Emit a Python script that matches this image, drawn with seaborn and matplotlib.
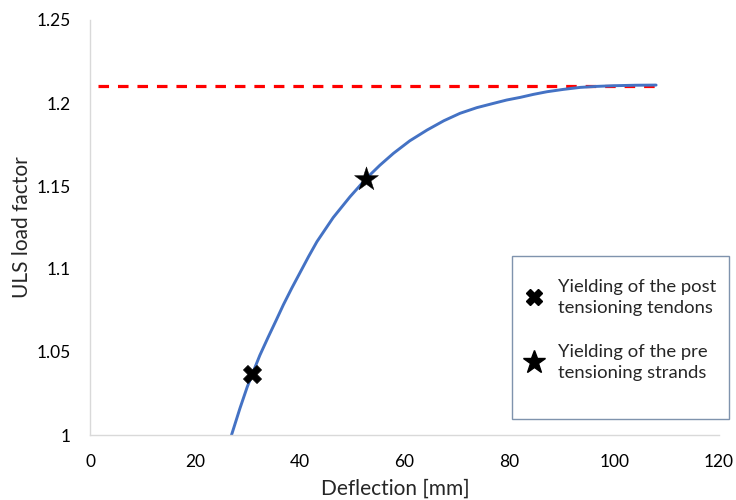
import matplotlib
matplotlib.use("Agg")
import matplotlib.pyplot as plt
import matplotlib.ticker as mticker
from matplotlib.patches import Rectangle
from matplotlib.lines import Line2D
import seaborn as sns
import pandas as pd

# Data
deflection = [27.0, 28.6, 30.0, 31.0, 32.4, 34.0, 35.5, 36.9, 38.5, 40.1,
              41.7, 43.3, 46.4, 49.6, 52.7, 55.3, 57.9, 61.0, 64.3, 67.5,
              70.6, 73.8, 77.0, 79.5, 82.1, 84.6, 87.2, 90.3, 93.5, 96.6,
              99.8, 104.0, 108.0]
load_factor = [1.000, 1.016, 1.029, 1.037, 1.048, 1.059, 1.069, 1.0785, 1.0885, 1.098,
               1.1075, 1.1165, 1.131, 1.1435, 1.1545, 1.1625, 1.1697, 1.1772, 1.1837, 1.1893,
               1.1938, 1.1972, 1.1998, 1.2018, 1.2034, 1.2052, 1.2068, 1.2082, 1.2094, 1.2100,
               1.2104, 1.2107, 1.2108]
limit_x = [1.5, 108.0]
limit_y = [1.21, 1.21]
post_x, post_y = [31.0], [1.037]
pre_x, pre_y = [52.7], [1.1545]
legend_labels = ["Yielding of the post\ntensioning tendons",
                 "Yielding of the pre\ntensioning strands"]

sns.set_style("white")
plt.rcParams['font.family'] = ['Lato', 'DejaVu Sans']

fig = plt.figure(figsize=(7.36, 5.0), dpi=100)
ax = fig.add_axes([90/736, 65/500, 629/736, 415/500])

curve = pd.DataFrame({"x": deflection, "y": load_factor})
sns.lineplot(data=curve, x="x", y="y", ax=ax, color="#4472c4", linewidth=2.1,
             sort=False, estimator=None)
ax.plot(limit_x, limit_y, color="#ff0000", linewidth=2.3, dashes=(3.3, 2.8),
        solid_capstyle="butt", dash_capstyle="butt", zorder=1)
sns.scatterplot(x=post_x, y=post_y, ax=ax, marker="X", s=170, color="black",
                edgecolor="black", linewidth=0.5, zorder=5)
sns.scatterplot(x=pre_x, y=pre_y, ax=ax, marker="*", s=330, color="black",
                edgecolor="black", linewidth=0.3, zorder=5)

ax.set_xlim(0, 120)
ax.set_ylim(1.0, 1.25)
ax.xaxis.set_major_locator(mticker.MultipleLocator(20))
ax.xaxis.set_minor_locator(mticker.MultipleLocator(4))
ax.yaxis.set_major_locator(mticker.MultipleLocator(0.05))
ax.yaxis.set_minor_locator(mticker.MultipleLocator(0.0125))
ax.yaxis.set_major_formatter(mticker.FormatStrFormatter('%g'))
ax.xaxis.set_major_formatter(mticker.FormatStrFormatter('%g'))

for s in ["top", "right"]:
    ax.spines[s].set_visible(False)
for s in ["left", "bottom"]:
    ax.spines[s].set_color("#d9d9d9")
    ax.spines[s].set_linewidth(1.0)
ax.tick_params(which="both", direction="in", length=4, width=0.8, color="#d9d9d9",
               labelsize=12.5, labelcolor="black")
ax.tick_params(axis="y", which="major", pad=14)
ax.tick_params(axis="x", which="major", pad=14)

ax.set_xlabel("Deflection [mm]", fontsize=15)
ax.set_ylabel("ULS load factor", fontsize=15)
ax.xaxis.set_label_coords(0.485, -0.105)
ax.yaxis.set_label_coords(-0.093, 0.5)

# Legend box
rect = Rectangle((512/736, (500-419)/500), (729-512)/736, (419-256)/500,
                 transform=fig.transFigure, facecolor="white",
                 edgecolor="#7f93ad", linewidth=1.0, zorder=6, clip_on=False)
ax.add_patch(rect)
handles = [Line2D([], [], linestyle="none", marker="X", markersize=12,
                  color="black", markeredgecolor="black"),
           Line2D([], [], linestyle="none", marker="*", markersize=17,
                  color="black", markeredgecolor="black")]
leg = ax.legend(handles, legend_labels, loc="upper left",
                bbox_to_anchor=(510/736, (500-264)/500),
                bbox_transform=fig.transFigure, frameon=False, fontsize=13.3,
                handlelength=1.0, handletextpad=0.8, labelspacing=1.5,
                borderpad=0.3)
leg.set_zorder(10)
for t in leg.get_texts():
    t.set_linespacing(1.4)

fig.savefig("out.png", dpi=100)
